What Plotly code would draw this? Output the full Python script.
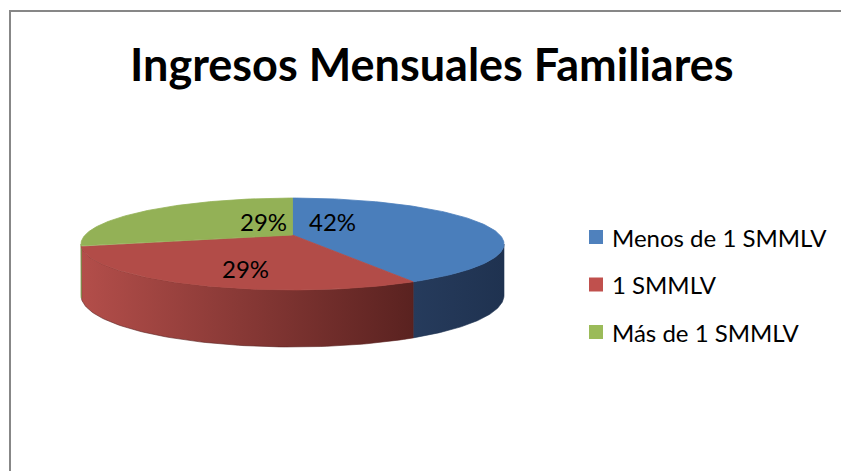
import numpy as np
import plotly.graph_objects as go

# ---- data ----
categories = ["Menos de 1 SMMLV", "1 SMMLV", "Más de 1 SMMLV"]
values = [42, 29, 29]
pct_labels = ["42%", "29%", "29%"]
title_text = "Ingresos Mensuales Familiares"

# ---- style ----
top_colors = ["#4A7EBB", "#B24C48", "#93B156"]
legend_colors = ["#4F81BD", "#C0504D", "#9BBB59"]
side_colors = [("#263B5C", "#1F3250"), ("#B34E4A", "#5A2220"), ("#8DA851", "#7C9447")]
label_pos = [(332.5, 221), (245, 268.5), (263, 221)]
FONT = "Lato"

W, H = 841, 471
CX, CY = 292.5, 235.0      # projected pie centre (px)
A, B, P = 207.4, 44.2, 0.196  # radii and perspective factor


def proj(theta, r=1.0):
    t = np.radians(theta)
    u = r * np.sin(t)
    v = -r * np.cos(t)
    k = 1.0 / (1.0 - P * v)
    return CX + A * u * k, CY + B * v * k, v


def depth(v):
    return 50 + 7 * v


total = float(sum(values))
bounds = np.concatenate([[0], np.cumsum(values)]) / total * 360.0
sil_r = np.degrees(np.arccos(-P))
sil_l = 360.0 - sil_r

fig = go.Figure()

# side walls
for i in range(len(values)):
    a, b = max(bounds[i], sil_r), min(bounds[i + 1], sil_l)
    if b <= a:
        continue
    th = np.linspace(a, b, 80)
    x, y, v = proj(th)
    yb = y + depth(v)
    xs = np.concatenate([x, x[::-1], x[:1]])
    ys = np.concatenate([y, yb[::-1], y[:1]])
    c0, c1 = side_colors[i]
    fig.add_trace(go.Scatter(
        x=xs, y=ys, mode="lines", fill="toself",
        line=dict(width=0.6, color=c1),
        fillgradient=dict(type="horizontal", colorscale=[[0, c0], [1, c1]]),
        hoverinfo="skip", showlegend=False))

# top faces
for i in range(len(values)):
    th = np.linspace(bounds[i], bounds[i + 1], 120)
    x, y, _ = proj(th)
    xs = np.concatenate([[CX], x, [CX]])
    ys = np.concatenate([[CY], y, [CY]])
    fig.add_trace(go.Scatter(
        x=xs, y=ys, mode="lines", fill="toself",
        fillcolor=top_colors[i], line=dict(width=0.8, color=top_colors[i]),
        hoverinfo="skip", showlegend=False, name=categories[i]))

annotations = []
for (lx, ly), txt in zip(label_pos, pct_labels):
    annotations.append(dict(x=lx, y=ly, xref="x", yref="y", text=txt, showarrow=False,
                            font=dict(family=FONT, size=24, color="#000000"),
                            xanchor="center", yanchor="middle"))

annotations.append(dict(x=432, y=64, xref="x", yref="y", text="<b>" + title_text + "</b>",
                        showarrow=False, font=dict(family=FONT, size=45, color="#000000"),
                        xanchor="center", yanchor="middle"))

# chart frame (only left and top edges fall inside the window)
shapes = [dict(type="path", xref="x", yref="y", path=f"M 10 {H + 5} L 10 11 L {W + 5} 11",
               line=dict(color="#878787", width=2), layer="below")]

legend_y0, legend_dy = 237, 47.5
for i, name in enumerate(categories):
    yy = legend_y0 + i * legend_dy
    shapes.append(dict(type="rect", xref="x", yref="y", x0=589, x1=603, y0=yy - 7, y1=yy + 7,
                       fillcolor=legend_colors[i], line=dict(width=0)))
    annotations.append(dict(x=610, y=yy, xref="x", yref="y", text=name, showarrow=False,
                            font=dict(family=FONT, size=24, color="#000000"),
                            xanchor="left", yanchor="middle"))

fig.update_layout(
    width=W, height=H, margin=dict(l=0, r=0, t=0, b=0),
    paper_bgcolor="white", plot_bgcolor="white",
    xaxis=dict(range=[0, W], visible=False, fixedrange=True),
    yaxis=dict(range=[H, 0], visible=False, fixedrange=True),
    showlegend=False, annotations=annotations, shapes=shapes,
)

fig.write_html(
    "out.html",
    config={"displayModeBar": False},
    post_script="document.body.style.margin='0';document.body.style.overflow='hidden';",
)
